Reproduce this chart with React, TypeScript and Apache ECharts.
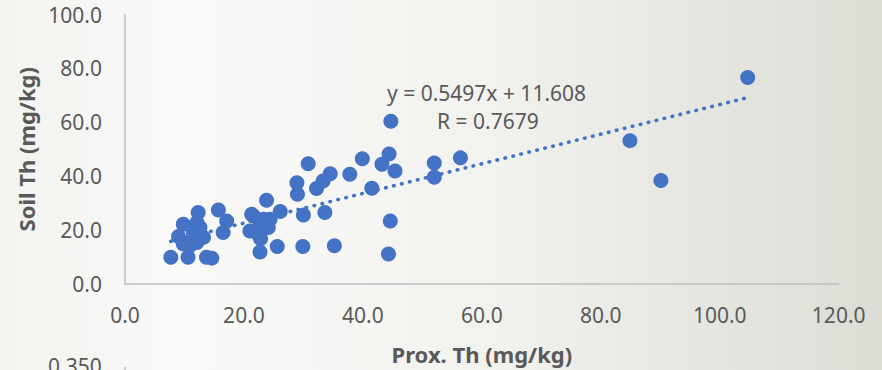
import React, { useEffect, useRef } from "react";
import * as echarts from "echarts";

// Proximal soil sensor Th (x) vs soil Th (y), mg/kg
const proxTh: number[] = [
  104.7, 84.9, 90.1, 44.7, 44.4, 43.2, 45.4, 52.0, 52.0, 56.4,
  44.6, 44.3, 30.8, 39.9, 34.5, 33.3, 32.2, 37.8, 28.9, 29.0,
  41.5, 23.8, 26.1, 30.0, 33.6, 22.7, 25.6, 29.9, 35.2, 7.7,
  9.8, 9.0, 12.3, 12.1, 10.6, 13.7, 14.6, 15.7, 17.1, 16.5,
  13.2, 10.9, 12.1, 9.8, 11.5, 12.6, 21.3, 21.0, 22.4, 24.1,
  23.3, 21.6, 22.7, 24.4, 22.8,
];
const soilTh: number[] = [
  76.6, 53.2, 38.4, 60.4, 48.2, 44.4, 41.9, 44.9, 39.6, 46.8,
  23.4, 11.1, 44.6, 46.5, 40.9, 38.2, 35.4, 40.7, 37.6, 33.3,
  35.5, 31.1, 26.9, 25.6, 26.5, 11.9, 13.9, 13.9, 14.2, 9.9,
  22.2, 17.6, 26.5, 22.8, 9.9, 9.9, 9.6, 27.5, 23.4, 19.1,
  17.3, 14.2, 15.4, 14.8, 19.1, 21.0, 25.9, 19.7, 18.5, 21.0,
  24.0, 25.2, 21.8, 24.0, 16.8,
];

// Linear trendline reported on the chart
const SLOPE = 0.5497;
const INTERCEPT = 11.608;
const R_VALUE = 0.7679;

const xTicks = { min: 0, max: 120, interval: 20 };
const yTicks = { min: 0, max: 100, interval: 20 };

const FONT = "'Noto Sans', 'Open Sans', sans-serif";
const TEXT_COLOR = "#595959";
const POINT_COLOR = "#4472c4";

export default function App() {
  const ref = useRef<HTMLDivElement>(null);

  useEffect(() => {
    if (!ref.current) return;
    const chart = echarts.init(ref.current, undefined, { renderer: "svg" });

    const points = proxTh.map((x, i) => [x, soilTh[i]]);
    const xMin = Math.min(...proxTh);
    const xMax = Math.max(...proxTh);
    const trend = [
      [xMin, SLOPE * xMin + INTERCEPT],
      [xMax, SLOPE * xMax + INTERCEPT],
    ];

    chart.setOption({
      animation: false,
      backgroundColor: {
        type: "linear",
        x: 0,
        y: 0,
        x2: 1,
        y2: 0,
        colorStops: [
          { offset: 0, color: "#f3f3f0" },
          { offset: 0.2, color: "#f9f9f8" },
          { offset: 0.55, color: "#f2f2ef" },
          { offset: 1, color: "#dcddd5" },
        ],
      },
      textStyle: { fontFamily: FONT },
      grid: { left: 125, right: 43.3, top: 14.5, bottom: 85, containLabel: false },
      xAxis: {
        type: "value",
        min: xTicks.min,
        max: xTicks.max,
        interval: xTicks.interval,
        name: "Prox. Th (mg/kg)",
        nameLocation: "middle",
        nameGap: 59,
        nameTextStyle: { color: TEXT_COLOR, fontSize: 22, fontWeight: "bold", fontFamily: FONT },
        axisLine: { show: true, lineStyle: { color: "#bfbfbf", width: 1.5 } },
        axisTick: { show: false },
        splitLine: { show: false },
        axisLabel: {
          color: TEXT_COLOR,
          fontSize: 21,
          fontFamily: FONT,
          margin: 20,
          formatter: (v: number) => v.toFixed(1),
        },
      },
      yAxis: {
        type: "value",
        min: yTicks.min,
        max: yTicks.max,
        interval: yTicks.interval,
        name: "Soil Th (mg/kg)",
        nameLocation: "middle",
        nameGap: 86,
        nameRotate: 90,
        nameTextStyle: { color: TEXT_COLOR, fontSize: 22, fontWeight: "bold", fontFamily: FONT },
        axisLine: { show: true, lineStyle: { color: "#bfbfbf", width: 1.5 } },
        axisTick: { show: false },
        splitLine: { show: false },
        axisLabel: {
          color: TEXT_COLOR,
          fontSize: 21,
          fontFamily: FONT,
          margin: 23,
          formatter: (v: number) => v.toFixed(1),
        },
      },
      series: [
        {
          type: "line",
          data: trend,
          showSymbol: false,
          symbol: "none",
          silent: true,
          z: 1,
          lineStyle: { color: POINT_COLOR, width: 3.6, type: [0.5, 7.7], cap: "round" },
        },
        {
          type: "scatter",
          data: points,
          symbol: "circle",
          symbolSize: 15,
          z: 2,
          itemStyle: { color: POINT_COLOR, opacity: 1 },
        },
      ],
      graphic: [
        {
          type: "text",
          left: 387,
          top: 82,
          style: {
            text: `y = ${SLOPE}x + ${INTERCEPT}`,
            fill: TEXT_COLOR,
            font: `21px ${FONT}`,
          },
        },
        {
          type: "text",
          left: 437,
          top: 110,
          style: {
            text: `R = ${R_VALUE}`,
            fill: TEXT_COLOR,
            font: `21px ${FONT}`,
          },
        },
        {
          type: "text",
          right: 882 - 101.7,
          top: 355,
          style: {
            text: "0.350",
            fill: TEXT_COLOR,
            font: `21px ${FONT}`,
          },
        },
        {
          type: "line",
          shape: { x1: 125, y1: 367, x2: 125, y2: 371 },
          style: { stroke: "#bfbfbf", lineWidth: 1.5 },
        },
      ],
    });

    return () => chart.dispose();
  }, []);

  return (
    <div
      ref={ref}
      style={{ position: "fixed", left: 0, top: 0, width: 882, height: 370 }}
    />
  );
}
